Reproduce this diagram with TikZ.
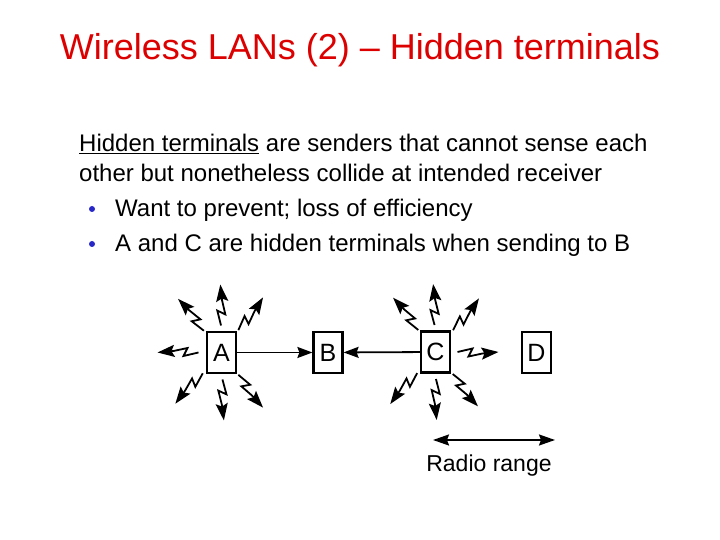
\documentclass[tikz,border=0pt]{standalone}
\usepackage{fontspec}
\setmainfont{Liberation Sans}
\usetikzlibrary{arrows.meta}
\definecolor{titlered}{RGB}{220,0,0}
\definecolor{bulletblue}{RGB}{40,40,200}
\newcommand\zapbolt[3]{\draw[zapline, shift={(#1)}, rotate=#2] (#3,0) -- ++(15,3.5) -- ++(-4,-8) -- ++(14,3) -- ++(16,1.5);}
\begin{document}
\begin{tikzpicture}[x=1pt,y=1pt,
  term/.style={draw, line width=2.2pt, minimum width=29pt, minimum height=41pt, inner sep=0pt, font=\fontsize{25}{28}\selectfont},
  conn/.style={line width=1.8pt, -{Stealth[length=15pt,width=11pt,inset=2pt]}},
  zapline/.style={line width=1.8pt, line join=miter, -{Stealth[length=17pt,width=12pt,inset=3pt]}},
  rangearrow/.style={line width=1.8pt, {Stealth[length=16pt,width=11pt,inset=2pt]}-{Stealth[length=16pt,width=11pt,inset=2pt]}},
  body/.style={anchor=base west, inner sep=0pt, font=\fontsize{24}{28}\selectfont},
  bulletmark/.style={circle, fill=bulletblue, inner sep=0pt, minimum size=6pt}]
\useasboundingbox (0,0) rectangle (720,540);
\node[anchor=base, inner sep=0pt, text=titlered, font=\fontsize{36}{40}\selectfont] (title) at (360,480) {Wireless LANs (2) – Hidden terminals};
\node[body] (l1) at (79,388) {\underline{Hidden terminals} are senders that cannot sense each};
\node[body] (l2) at (79,358) {other but nonetheless collide at intended receiver};
\node[bulletmark] (b1) at (92,331) {};
\node[body] (l3) at (115,323) {Want to prevent; loss of efficiency};
\node[bulletmark] (b2) at (92,296) {};
\node[body] (l4) at (115,288) {A and C are hidden terminals when sending to B};

\node[term] (A) at (221.5,187.5) {A};
\node[term] (B) at (328,187.5) {B};
\node[term] (C) at (435.5,188) {C};
\node[term] (D) at (536.5,187.5) {D};

\draw[conn] (A) -- (B);
\draw[conn] (C) -- (B);

\foreach \ang in {53,129,228,307} {\zapbolt{A.center}{\ang}{28}}
\foreach \ang in {91,272} {\zapbolt{A.center}{\ang}{27}}
\zapbolt{A.center}{180}{23}
\foreach \ang in {51,128,229,308} {\zapbolt{C.center}{\ang}{28}}
\foreach \ang in {92,271} {\zapbolt{C.center}{\ang}{27}}
\zapbolt{C.center}{0}{22}

\coordinate (r1) at (433,100);
\coordinate (r2) at (555,100);
\draw[rangearrow] (r1) -- (r2);
\node[anchor=base, inner sep=0pt, font=\fontsize{23}{27}\selectfont] (rr) at (489,68) {Radio range};
\end{tikzpicture}
\end{document}
